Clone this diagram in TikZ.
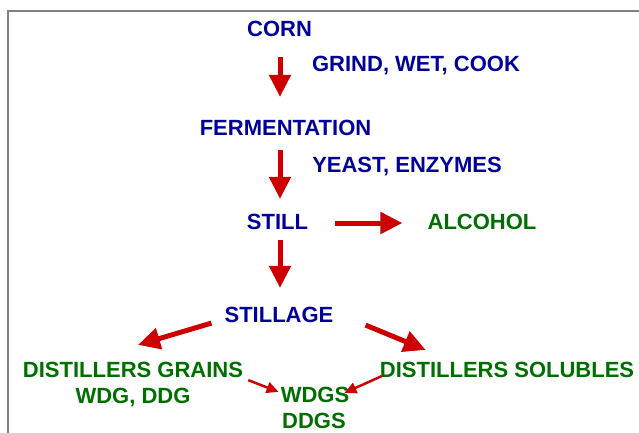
\documentclass[tikz,border=0pt]{standalone}
\usepackage{fontspec}
\setmainfont{Liberation Sans}
\usetikzlibrary{arrows.meta,calc}

\definecolor{stepblue}{RGB}{0,0,153}
\definecolor{prodgreen}{RGB}{0,110,0}
\definecolor{flowred}{RGB}{204,0,0}

\tikzset{
  steptext/.style={text=stepblue,font=\bfseries\fontsize{22}{26}\selectfont,inner sep=0pt,text height=15.8pt,text depth=0pt},
  prodtext/.style={steptext,text=prodgreen},
  bigflow/.style={draw=flowred,line width=5pt,-{Triangle[length=22pt,width=21pt]}},
  smallflow/.style={draw=flowred,line width=2.5pt,-{Triangle[length=12pt,width=11pt]}}
}

\begin{document}
\begin{tikzpicture}[x=1pt,y=1pt,yscale=-1]
\useasboundingbox (0,0) rectangle (639,432);

%Frame
\draw [color={rgb,255:red,128;green,128;blue,128},line width=2pt] (7.5,440) -- (7.5,11) -- (645,11);

% Text Node
\node [steptext] (corn) at (279.5,29) {CORN};
\node [steptext] (grind) at (416,64) {GRIND, WET, COOK};
\node [steptext] (ferm) at (285.5,128) {FERMENTATION};
\node [steptext] (yeast) at (407,165) {YEAST, ENZYMES};
\node [steptext] (still) at (277.5,222) {STILL};
\node [prodtext] (alcohol) at (482,222) {ALCOHOL};
\node [steptext] (stillage) at (279,315) {STILLAGE};
\node [prodtext] (grains) at (133,370) {DISTILLERS GRAINS};
\node [prodtext] (wdg) at (133,396) {WDG, DDG};
\node [prodtext] (solubles) at (507,370) {DISTILLERS SOLUBLES};
\node [prodtext] (wdgs) at (315,395) {WDGS};
\node [prodtext] (ddgs) at (314,420.5) {DDGS};

%Straight Lines
\draw [bigflow] ($(corn.south)+(0.5,20)$) -- ($(corn.south |- ferm.north)+(0.5,-23)$);
\draw [bigflow] ($(corn.south |- ferm.south)+(0.5,14)$) -- ($(corn.south |- still.north)+(0.5,-15)$);
\draw [bigflow] ($(corn.south |- still.south)+(0.5,10)$) -- ($(corn.south |- stillage.north)+(0.5,-19)$);
\draw [bigflow] ($(still.east)+(27,1)$) -- ($(alcohol.west)+(-25,1)$);
\draw [bigflow] ($(stillage.south west)+(-13,0)$) -- ($(grains.north)+(5,-17)$);
\draw [bigflow] ($(stillage.south east)+(32,2)$) -- ($(solubles.north west)+(46,-12)$);
\draw [smallflow] ($(grains.south east)+(5,2)$) -- ($(wdgs.north west)+(-2,5)$);
\draw [smallflow] ($(solubles.south west)+(2,-2)$) -- ($(wdgs.north east)+(-5,6)$);

\end{tikzpicture}
\end{document}
